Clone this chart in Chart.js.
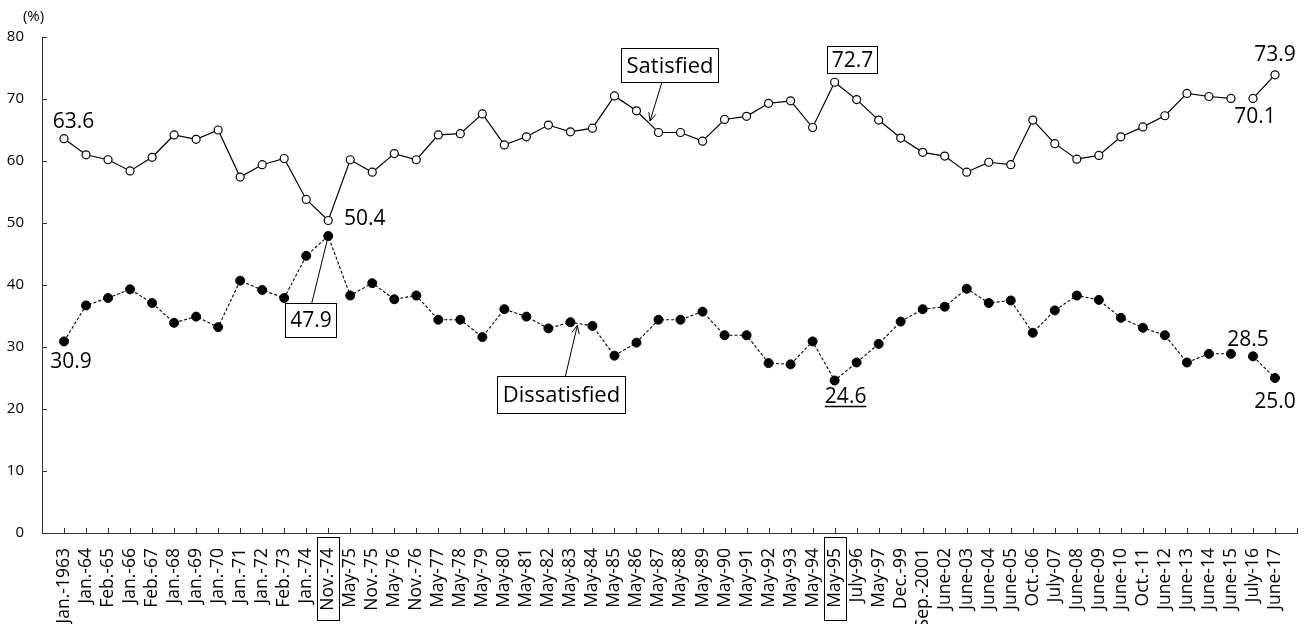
<!DOCTYPE html>
<html>
<head>
<meta charset="utf-8">
<script src="https://cdn.jsdelivr.net/npm/chart.js@4.4.1/dist/chart.umd.min.js"></script>
<style>
  html, body { margin: 0; padding: 0; background: #fff; }
</style>
</head>
<body>
<canvas id="chart" width="1311" height="624"></canvas>
<script>
// survey dates (x axis)
const surveyLabels = [
  "Jan.-1963", "Jan.-64", "Feb.-65", "Jan.-66", "Feb.-67", "Jan.-68", "Jan.-69", "Jan.-70",
  "Jan.-71", "Jan.-72", "Feb.-73", "Jan.-74", "Nov.-74", "May-75", "Nov.-75", "May-76",
  "Nov.-76", "May-77", "May-78", "May-79", "May-80", "May-81", "May-82", "May-83",
  "May-84", "May-85", "May-86", "May-87", "May-88", "May-89", "May-90", "May-91",
  "May-92", "May-93", "May-94", "May-95", "July-96", "May-97", "Dec.-99", "Sep.-2001",
  "June-02", "June-03", "June-04", "June-05", "Oct.-06", "July-07", "June-08", "June-09",
  "June-10", "Oct.-11", "June-12", "June-13", "June-14", "June-15", "July-16", "June-17"
];

// % satisfied
const satisfied = [
  63.6, 61.0, 60.2, 58.4, 60.6, 64.2, 63.5, 65.0, 57.4, 59.4, 60.4, 53.8, 50.4, 60.2,
  58.2, 61.2, 60.2, 64.2, 64.4, 67.6, 62.6, 63.9, 65.8, 64.7, 65.3, 70.5, 68.1, 64.6,
  64.6, 63.2, 66.7, 67.2, 69.3, 69.7, 65.4, 72.7, 69.9, 66.6, 63.7, 61.4, 60.8, 58.2,
  59.8, 59.4, 66.6, 62.8, 60.3, 60.9, 63.9, 65.5, 67.3, 70.9, 70.4, 70.1, 70.1, 73.9
];

// % dissatisfied
const dissatisfied = [
  30.9, 36.7, 37.9, 39.3, 37.1, 33.9, 34.9, 33.2, 40.7, 39.2, 37.9, 44.7, 47.9, 38.3,
  40.3, 37.7, 38.3, 34.4, 34.4, 31.6, 36.1, 34.9, 33.0, 34.0, 33.4, 28.6, 30.7, 34.4,
  34.4, 35.7, 31.9, 31.9, 27.4, 27.2, 30.9, 24.6, 27.5, 30.5, 34.1, 36.1, 36.5, 39.4,
  37.1, 37.5, 32.3, 35.9, 38.3, 37.6, 34.7, 33.1, 31.9, 27.5, 28.9, 28.9, 28.5, 25.0
];

const yTicks = [0, 10, 20, 30, 40, 50, 60, 70, 80];

// series break between June-15 and July-16
const breakAfter = "June-15";
// x labels drawn inside a box
const boxedLabels = ["Nov.-74", "May-95"];

// one empty slot at each end of the category axis
const labels = ["", ...surveyLabels, ""];
const pad = arr => [null, ...arr, null];
const breakIdx = labels.indexOf(breakAfter);

const FONT = "'Open Sans', 'DejaVu Sans', sans-serif";

// annotations: anchored to a data point (dataset, label), offsets in px
const notes = [
  { ds: 0, at: "Jan.-1963", text: "63.6", dx: 9.5, dy: -10.6 },
  { ds: 0, at: "Nov.-74", text: "50.4", dx: 36.5, dy: 4 },
  { ds: 0, at: "July-16", text: "70.1", dx: 2, dy: 24.7 },
  { ds: 0, at: "June-17", text: "73.9", dx: 0, dy: -13.7 },
  { ds: 1, at: "Jan.-1963", text: "30.9", dx: 7, dy: 26.6 },
  { ds: 1, at: "July-16", text: "28.5", dx: -5, dy: -10 },
  { ds: 1, at: "June-17", text: "25.0", dx: 0, dy: 29.7 },
  { ds: 1, at: "May-95", text: "24.6", dx: 11, dy: 23, underline: true }
];
const boxes = [
  { ds: 0, at: "May-95", text: "72.7", left: -8, top: -36.7, w: 50, h: 27, size: 21 },
  { ds: 1, at: "Nov.-74", text: "47.9", left: -43.5, top: 67.3, w: 51, h: 34, size: 21,
    line: { x0: -16.5, y0: 67.3, x1: 0, y1: 0 } },
  { ds: 0, at: "May-86", text: "Satisfied", left: -15.5, top: -62.7, w: 97, h: 34, size: 22,
    line: { x0: 25.5, y0: -28.7, x1: 13.5, y1: 10.3, arrow: true } },
  { ds: 1, at: "May-83", text: "Dissatisfied", left: -73, top: 54, w: 128, h: 37, size: 22,
    line: { x0: -5, y0: 54, x1: 7, y1: 3, arrow: true } }
];

function anchor(chart, ds, at) {
  const i = labels.indexOf(at);
  const v = chart.data.datasets[ds].data[i];
  return { x: chart.scales.x.getPixelForValue(i), y: chart.scales.y.getPixelForValue(v) };
}

function arrowHead(ctx, x0, y0, x1, y1) {
  const a = Math.atan2(y1 - y0, x1 - x0);
  const len = 9, spread = 0.42;
  ctx.beginPath();
  ctx.moveTo(x1 - len * Math.cos(a - spread), y1 - len * Math.sin(a - spread));
  ctx.lineTo(x1, y1);
  ctx.lineTo(x1 - len * Math.cos(a + spread), y1 - len * Math.sin(a + spread));
  ctx.stroke();
}

const extrasPlugin = {
  id: "extras",
  afterDraw(chart) {
    const ctx = chart.ctx;
    const xs = chart.scales.x, ys = chart.scales.y;
    const area = chart.chartArea;
    ctx.save();
    ctx.strokeStyle = "#333";
    ctx.lineWidth = 1;

    // inside tick marks
    ctx.beginPath();
    yTicks.forEach(t => {
      const y = Math.round(ys.getPixelForValue(t)) + 0.5;
      ctx.moveTo(area.left, y);
      ctx.lineTo(area.left + 5, y);
    });
    for (let i = 1; i < labels.length; i++) {
      const x = Math.round(xs.getPixelForValue(i)) + 0.5;
      ctx.moveTo(x, area.bottom);
      ctx.lineTo(x, area.bottom - 5);
    }
    ctx.stroke();

    // boxes around some x labels
    ctx.strokeStyle = "#000";
    boxedLabels.forEach(l => {
      const x = Math.round(xs.getPixelForValue(labels.indexOf(l)));
      ctx.strokeRect(x - 11 + 0.5, area.bottom + 4.5, 22, 83);
    });

    // unit
    ctx.fillStyle = "#000";
    ctx.font = "15px " + FONT;
    ctx.textAlign = "center";
    ctx.textBaseline = "alphabetic";
    ctx.fillText("(%)", 33.5, 21);

    // value labels
    ctx.font = "21px " + FONT;
    notes.forEach(n => {
      const p = anchor(chart, n.ds, n.at);
      const x = p.x + n.dx, y = p.y + n.dy;
      ctx.fillText(n.text, x, y);
      if (n.underline) {
        const w = ctx.measureText(n.text).width;
        ctx.beginPath();
        ctx.lineWidth = 1.5;
        ctx.moveTo(x - w / 2, y + 3);
        ctx.lineTo(x + w / 2, y + 3);
        ctx.stroke();
        ctx.lineWidth = 1;
      }
    });

    // callout boxes
    boxes.forEach(b => {
      const p = anchor(chart, b.ds, b.at);
      if (b.line) {
        const x0 = p.x + b.line.x0, y0 = p.y + b.line.y0;
        const x1 = p.x + b.line.x1, y1 = p.y + b.line.y1;
        ctx.beginPath();
        ctx.moveTo(x0, y0);
        ctx.lineTo(x1, y1);
        ctx.stroke();
        if (b.line.arrow) arrowHead(ctx, x0, y0, x1, y1);
      }
      const bx = Math.round(p.x + b.left) + 0.5, by = Math.round(p.y + b.top) + 0.5;
      ctx.fillStyle = "#fff";
      ctx.fillRect(bx, by, b.w, b.h);
      ctx.strokeRect(bx, by, b.w, b.h);
      ctx.fillStyle = "#000";
      ctx.font = b.size + "px " + FONT;
      ctx.textBaseline = "middle";
      ctx.fillText(b.text, bx + b.w / 2, by + b.h / 2 + 1);
      ctx.textBaseline = "alphabetic";
    });
    ctx.restore();
  }
};

const hideBreak = ctx => (ctx.p0DataIndex === breakIdx ? "rgba(0,0,0,0)" : undefined);

new Chart(document.getElementById("chart"), {
  type: "line",
  data: {
    labels,
    datasets: [
      {
        label: "Satisfied",
        data: pad(satisfied),
        borderColor: "#000",
        borderWidth: 1.2,
        pointRadius: 4,
        pointBackgroundColor: "#fff",
        pointBorderColor: "#000",
        pointBorderWidth: 1.2,
        tension: 0,
        segment: { borderColor: hideBreak }
      },
      {
        label: "Dissatisfied",
        data: pad(dissatisfied),
        borderColor: "#000",
        borderWidth: 1.1,
        borderDash: [3, 2],
        pointRadius: 4.5,
        pointBackgroundColor: "#000",
        pointBorderColor: "#000",
        pointBorderWidth: 1,
        tension: 0,
        segment: { borderColor: hideBreak }
      }
    ]
  },
  options: {
    responsive: false,
    animation: false,
    devicePixelRatio: 1,
    layout: { padding: { top: 37, right: 14, left: 0, bottom: 0 } },
    plugins: {
      legend: { display: false },
      tooltip: { enabled: false }
    },
    scales: {
      x: {
        type: "category",
        offset: false,
        grid: { display: false, drawTicks: false },
        border: { display: true, color: "#333", width: 1 },
        ticks: {
          autoSkip: false,
          minRotation: 90,
          maxRotation: 90,
          padding: 15,
          color: "#000",
          font: { family: FONT, size: 17.5 }
        },
        afterFit: s => {
          s.height = 91;
          s.paddingLeft = 0;
          s.paddingRight = 0;
        }
      },
      y: {
        min: 0,
        max: 80,
        grid: { display: false, drawTicks: false },
        border: { display: true, color: "#333", width: 1 },
        ticks: {
          stepSize: 10,
          padding: 18,
          color: "#000",
          font: { family: FONT, size: 15 }
        },
        afterFit: s => { s.width = 42; }
      }
    }
  },
  plugins: [extrasPlugin]
});
</script>
</body>
</html>
